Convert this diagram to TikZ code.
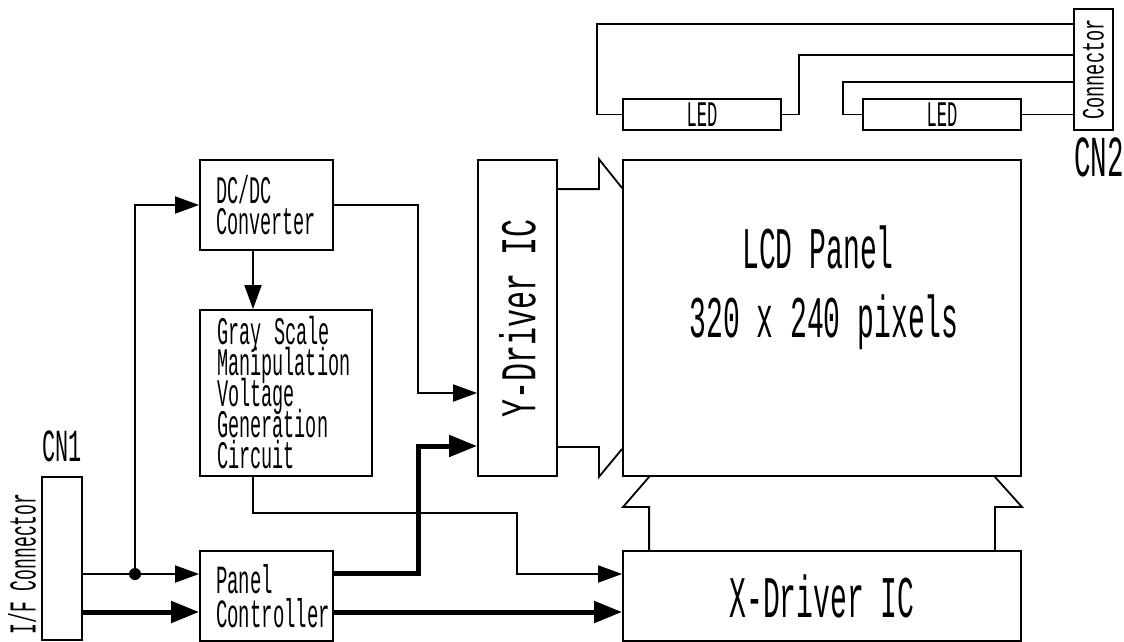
\documentclass[tikz,border=0pt]{standalone}
\usepackage{fontspec}
\setmainfont{Liberation Mono}[FakeStretch=0.475]
\newfontfamily\widefont{Liberation Mono}[FakeStretch=0.6]
\usetikzlibrary{arrows.meta}
\protected\def\tightlines{\lineskiplimit=-100pt\relax\lineskip=0pt\relax}
\begin{document}
\begin{tikzpicture}[x=1pt, y=-1pt]
    \tikzstyle{every node}=[inner sep=0pt, text=black]
    \tikzstyle{block}=[draw=black, line width=1.8pt, fill=white]
    \tikzstyle{textblock}=[block, align=left, font=\fontsize{39}{31}\selectfont\tightlines]
    \tikzstyle{wire}=[black, line width=1.8pt, -{Triangle[length=24pt, width=17pt]}]
    \tikzstyle{bus}=[black, line width=5pt, -{Triangle[length=28pt, width=21pt]}]
    \tikzstyle{line}=[black, line width=1.8pt]

    \useasboundingbox (0,0) rectangle (1124,642);

    % blocks
    \node[block, minimum width=40pt, minimum height=163pt] (cn1) at (62,558.5) {};
    \node[font=\fontsize{46}{46}\selectfont] (cn1lbl) at (62,446) {CN1};
    \node[rotate=90, font=\fontsize{38}{38}\selectfont] (ifc) at (22,564) {I/F Connector};

    \node[textblock, minimum width=133pt, minimum height=90pt, text width=101pt, inner xsep=16pt, font=\fontsize{40}{34}\selectfont\tightlines] (pc) at (266.5,596) {Panel\\Controller};
    \node[textblock, minimum width=133pt, minimum height=90pt, text width=101pt, inner xsep=16pt] (dcdc) at (266.5,205) {DC/DC\\Converter};
    \node[textblock, minimum width=172pt, minimum height=166pt, text width=138pt, inner xsep=17pt] (gray) at (286,393) {Gray Scale\\Manipulation\\Voltage\\Generation\\Circuit};

    \node[block, minimum width=79pt, minimum height=316pt] (ydrv) at (517.5,318) {};
    \node[rotate=90, font=\widefont\fontsize{50}{50}\selectfont] (ydrvlbl) at (ydrv.center) {Y-Driver IC};

    \node[block, minimum width=398pt, minimum height=316pt] (lcd) at (822,318) {};
    \node[font=\fontsize{59}{59}\selectfont] (lcdname) at (818,247) {LCD Panel};
    \node[font=\fontsize{59}{59}\selectfont] (lcdres) at (824,322) {320 x 240 pixels};

    \node[block, minimum width=398pt, minimum height=90pt, font=\fontsize{59}{59}\selectfont] (xdrv) at (822,596) {X-Driver IC};

    \node[block, minimum width=158pt, minimum height=31pt, font=\fontsize{36}{36}\selectfont] (led1) at (702,114.5) {LED};
    \node[block, minimum width=158pt, minimum height=31pt, font=\fontsize{36}{36}\selectfont] (led2) at (942,114.5) {LED};
    \node[block, minimum width=39pt, minimum height=121pt] (cn2) at (1093.5,69.5) {};
    \node[rotate=90, font=\widefont\fontsize{31}{31}\selectfont] (cn2txt) at (cn2.center) {Connector};
    \node[font=\fontsize{58}{58}\selectfont] (cn2lbl) at (1099,157) {CN2};

    % inputs from CN1
    \coordinate (pcin1) at ([yshift=22pt]pc.west);
    \coordinate (pcin2) at ([yshift=-16pt]pc.west);
    \coordinate (tap) at (135,574);
    \draw[wire] (cn1.east |- pcin1) -- (pcin1);
    \draw[wire] (tap) |- (dcdc.west);
    \fill (tap) circle (6pt);
    \draw[bus] (cn1.east |- pcin2) -- (pcin2);

    % DC/DC outputs
    \coordinate (vx) at (418,0);
    \coordinate (yin1) at ([yshift=-75pt]ydrv.west);
    \coordinate (yin2) at ([yshift=-128pt]ydrv.west);
    \draw[wire] ([xshift=-13.5pt]dcdc.south) -- ([xshift=-13.5pt]dcdc.south |- gray.north);
    \draw[wire] (dcdc.east) -| (vx |- yin1) -- (yin1);

    % panel controller outputs
    \coordinate (pcout1) at ([yshift=23pt]pc.east);
    \coordinate (pcout2) at ([yshift=-16pt]pc.east);
    \draw[bus] (pcout1) -| (vx |- yin2) -- (yin2);
    \draw[bus] (pcout2) -- (xdrv.west |- pcout2);

    % gray scale voltage to X-driver
    \coordinate (gx) at (517,513);
    \coordinate (xin1) at ([yshift=22pt]xdrv.west);
    \draw[wire] ([xshift=-33pt]gray.south) |- (gx) |- (xin1);

    % driver to panel links
    \draw[line] ([yshift=-30pt]ydrv.north east) -- ++(41,0) -- ++(0,-30) -- ([yshift=-29pt]lcd.north west);
    \draw[line] ([yshift=30pt]ydrv.south east) -- ++(41,0) -- ++(0,30) -- ([yshift=28pt]lcd.south west);
    \draw[line] ([xshift=27pt]lcd.south west) -- ++(-26,30) -- ++(26,0) -- ([xshift=27pt]xdrv.north west);
    \draw[line] ([xshift=-27pt]lcd.south east) -- ++(27,30) -- ++(-27,0) -- ([xshift=-27pt]xdrv.north east);

    % backlight wiring
    \coordinate (w1) at (597,24);
    \coordinate (w2) at (799,55);
    \coordinate (w3) at (843,82);
    \draw[line] (led1.west) -- (w1 |- led1.west) -- (w1) -- (w1 -| cn2.west);
    \draw[line] (led1.east) -| (w2) -- (w2 -| cn2.west);
    \draw[line] (led2.west) -- (w3 |- led2.west) -- (w3) -- (w3 -| cn2.west);
    \draw[line] (led2.east) -- (cn2.west |- led2.east);
\end{tikzpicture}
\end{document}
